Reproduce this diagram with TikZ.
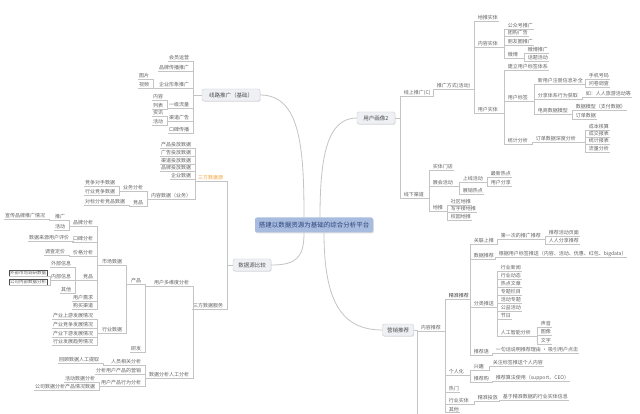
\documentclass[tikz,border=0pt]{standalone}
\usepackage{fontspec}
\setmainfont{Noto Sans CJK SC}
\usetikzlibrary{shadows}
\definecolor{txtgray}{HTML}{626262}
\definecolor{lnkgray}{HTML}{C4C4C4}
\definecolor{boxfill}{HTML}{EEF0F4}
\definecolor{boxline}{HTML}{C9CDD6}
\definecolor{cenfill}{HTML}{A8BCE0}
\definecolor{centext}{HTML}{2E4577}
\definecolor{hlorange}{HTML}{F2A33A}
\newcommand{\linkR}[2]{\draw[lnk] (#1) -| ([xshift=-3pt]#2.south west) -- (#2.south east);}
\newcommand{\linkL}[2]{\draw[lnk] (#1) -| ([xshift=3pt]#2.south east) -- (#2.south west);}

\begin{document}
\begin{tikzpicture}[x=1pt,y=-1pt,
 lf/.style={font=\fontsize{5}{5}\selectfont,text=txtgray,inner sep=0.7pt},
 lfR/.style={lf,anchor=west},
 lfL/.style={lf,anchor=east},
 boxed/.style={lfL,draw=black!70,line width=0.3pt,inner sep=0.8pt,font=\fontsize{4.5}{5}\selectfont},
 topic/.style={draw=boxline,fill=boxfill,rounded corners=2pt,font=\fontsize{5.5}{6}\selectfont,text=txtgray!80!black,inner xsep=3pt,minimum height=12pt,drop shadow={shadow xshift=0.6pt,shadow yshift=-0.8pt,opacity=0.2}},
 root/.style={fill=cenfill,rounded corners=2pt,font=\fontsize{6.5}{7}\selectfont,text=centext,minimum width=118pt,minimum height=15pt,drop shadow={shadow xshift=0.8pt,shadow yshift=-1pt,opacity=0.25}},
 lnk/.style={draw=lnkgray,line width=0.5pt},
 crv/.style={draw=lnkgray,line width=0.8pt}
]
\fill[white] (0,0) rectangle (640,414);
\useasboundingbox (0,0) rectangle (640,414);

\node[root] (cen) at (314,225) {搭建以数据资源为基础的综合分析平台};
\node[topic,minimum width=58pt] (tl) at (231,95) {线路推广（基础）};
\node[topic,minimum width=38pt] (tr) at (376,118) {用户画像2};
\node[topic,minimum width=38pt] (bl) at (252,265) {数据源比较};
\node[topic,minimum width=31pt] (br) at (398,330) {营销推荐};

\draw[crv] ([xshift=-10pt]cen.north) .. controls +(0,-70) and +(40,0) .. (tl.east);
\draw[crv] ([xshift=6pt]cen.north) .. controls +(0,-60) and +(-30,0) .. (tr.west);
\draw[crv] ([xshift=-10pt]cen.south) .. controls +(0,25) and +(25,0) .. (bl.east);
\draw[crv] ([xshift=10pt]cen.south) .. controls +(0,70) and +(-40,0) .. (br.west);

% top left
\node[lfL] (t1) at (190,58) {会员运营};
\node[lfL] (t2) at (190,68) {品牌传播推广};
\node[lfL] (t3) at (190,85) {企业形象推广};
\node[lfL] (t31) at (150,76) {图片};
\node[lfL] (t32) at (150,85) {视频};
\node[lfL] (t4) at (190,105) {一级流量};
\node[lfL] (t41) at (164,97) {内容};
\node[lfL] (t42) at (164,106) {列表};
\node[lfL] (t5) at (190,118) {渠道广告};
\node[lfL] (t51) at (164,113) {资讯};
\node[lfL] (t52) at (164,122) {活动};
\node[lfL] (t6) at (190,130) {口碑传播};

% left
\node[lfL,text=hlorange] (s1) at (224,178) {三方数据源};
\node[lfL] (s11) at (192,145) {产品投放数据};
\node[lfL] (s12) at (192,153) {广告投放数据};
\node[lfL] (s13) at (192,161) {渠道投放数据};
\node[lfL] (s14) at (192,168) {品牌投放数据};
\node[lfL] (s15) at (192,176) {企业数据};
\node[lfL] (s16) at (192,196) {内容数据（业务）};
\node[lfL] (s161) at (144,188) {业务分析};
\node[lfL] (s162) at (144,203) {竞品};
\node[lfL] (s1611) at (116,183) {竞争对手数据};
\node[lfL] (s1612) at (116,192) {行业竞争数据};
\node[lfL] (s1621) at (126,202) {对标分析竞品数据};

\node[lfL] (s2) at (224,306) {三方数据服务};
\node[lfL] (s21) at (190,283) {用户多维度分析};
\node[lfL] (s211) at (142,281) {产品};
\node[lfL] (s212) at (142,349) {研发};
\node[lfL] (s2111) at (123,262) {市场数据};
\node[lfL] (s2112) at (123,330) {行业数据};
\node[lfL] (m1) at (94,223) {品牌分析};
\node[lfL] (m2) at (94,239) {口碑分析};
\node[lfL] (m3) at (94,253) {价格分析};
\node[lfL] (m4) at (94,277) {竞品};
\node[lfL] (m5) at (94,298) {用户需求};
\node[lfL] (m6) at (94,306) {购买渠道};
\node[lfL] (m11) at (66,217) {推广};
\node[lfL] (m12) at (66,227) {活动};
\node[lfL] (m111) at (46,216) {宣传品牌推广情况};
\node[lfL] (m21) at (70,238) {数据来源用户评价};
\node[lfL] (m31) at (66,252) {调查定价};
\node[lfL] (m41) at (72,264) {外部信息};
\node[lfL] (m42) at (72,277) {内部信息};
\node[lfL] (m43) at (72,290) {其他};
\node[boxed] (m421) at (47,273) {外部市场调研数据};
\node[boxed] (m422) at (47,282) {公司内部数据分析};
\node[lfL] (h1) at (94,316) {产业上游发展情况};
\node[lfL] (h2) at (94,325) {产业竞争发展情况};
\node[lfL] (h3) at (94,334) {产业下游发展情况};
\node[lfL] (h4) at (94,342) {行业发展趋势情况};
\node[lfL] (s22) at (190,375) {数据分析人工分析};
\node[lfL] (s221) at (142,362) {人员相关分析};
\node[lfL] (s222) at (142,371) {分析用户产品的营销};
\node[lfL] (s223) at (142,383) {用户产品行为分析};
\node[lfL] (s2211) at (100,360) {回顾数据人工提取};
\node[lfL] (s2231) at (96,379) {活动数据分析};
\node[lfL] (s2232) at (96,387) {公司数据分析产品情况数据};

% top right
\node[lfR] (r1) at (403,93) {线上推广(C)};
\node[lfR] (r11) at (436,86) {推广方式(活动)};
\node[lfR] (r111) at (477,18) {地推实体};
\node[lfR] (r112) at (477,44) {内容实体};
\node[lfR] (r113) at (477,110) {用户实体};
\node[lfR] (r1121) at (507,26) {公众号推广};
\node[lfR] (r1122) at (507,33) {团购广告};
\node[lfR] (r1123) at (507,42) {朋友圈推广};
\node[lfR] (r1124) at (507,55) {微博};
\node[lfR] (r11241) at (527,50) {微博推广};
\node[lfR] (r11242) at (527,58) {话题活动};
\node[lfR] (r1131) at (507,67) {建立用户标签体系};
\node[lfR] (r1132) at (507,98) {用户标签};
\node[lfR] (r1133) at (507,141) {统计分析};
\node[lfR] (r11321) at (537,81) {新用户注册信息补全};
\node[lfR] (r11322) at (537,96) {分享体系行为获取};
\node[lfR] (r11323) at (537,111) {电商数据模型};
\node[lfR] (a1) at (588,76) {手机号码};
\node[lfR] (a2) at (588,84) {问卷调查};
\node[lfR] (a3) at (585,94) {如：人人旅游活动等};
\node[lfR] (a4) at (575,107) {数据模型（支付数据）};
\node[lfR] (a5) at (575,116) {订单数据};
\node[lfR] (r11331) at (535,139) {订单数据深度分析};
\node[lfR] (a6) at (588,127) {成本核算};
\node[lfR] (a7) at (588,134) {成交报表};
\node[lfR] (a8) at (588,141) {统计报表};
\node[lfR] (a9) at (588,149) {流量分析};

\node[lfR] (r2) at (403,195) {线下渠道};
\node[lfR] (r21) at (432,167) {实体门店};
\node[lfR] (r22) at (432,183) {展会活动};
\node[lfR] (r23) at (432,208) {地推};
\node[lfR] (r221) at (462,179) {上线活动};
\node[lfR] (r222) at (462,191) {展销热点};
\node[lfR] (r2211) at (490,174) {最新热点};
\node[lfR] (r2212) at (490,183) {用户分享};
\node[lfR] (r231) at (450,202) {社区地推};
\node[lfR] (r232) at (450,209) {写字楼地推};
\node[lfR] (r233) at (450,217) {校园地推};

% bottom right
\coordinate (bend) at (417,418);
\node[lfR] (b1) at (420,328) {内容推荐};
\node[lfR,text=black!75] (b11) at (448,296) {精准推荐};
\node[lfR] (b12) at (448,372) {个人化};
\node[lfR] (b13) at (448,389) {热门};
\node[lfR] (b14) at (448,401) {行业实体};
\node[lfR] (b15) at (448,409.5) {其他};
\node[lfR] (b111) at (473,241) {关联上推};
\node[lfR] (b112) at (473,256) {数据推荐};
\node[lfR] (b113) at (473,304) {分类推送};
\node[lfR] (b114) at (473,352) {推荐语};
\node[lfR] (b1111) at (500,236) {第一次的推广推荐};
\node[lfR] (b11111) at (548,233) {推荐活动页面};
\node[lfR] (b11112) at (548,241) {人人分享推荐};
\node[lfR] (b1121) at (498,254) {根据用户标签推送（内容、活动、优惠、红包、bigdata）};
\node[lfR] (c1) at (500,268) {行业新闻};
\node[lfR] (c2) at (500,276) {行业动态};
\node[lfR] (c3) at (500,284) {热点文章};
\node[lfR] (c4) at (500,292) {专题栏目};
\node[lfR] (c5) at (500,300) {活动专题};
\node[lfR] (c6) at (500,308) {公益活动};
\node[lfR] (c7) at (500,316) {节日};
\node[lfR] (b1138) at (500,333) {人工智能分析};
\node[lfR] (c81) at (540,324) {声音};
\node[lfR] (c82) at (540,332) {图像};
\node[lfR] (c83) at (540,341) {文字};
\node[lfR] (b1141) at (495,350) {一句话说明推荐理由 · 吸引用户点击};
\node[lfR] (b121) at (473,367) {兴趣};
\node[lfR] (b122) at (473,379) {推荐购};
\node[lfR] (b1211) at (492,363) {关注标签推送个人内容};
\node[lfR] (b1221) at (495,378) {推荐算法使用（support、CEO）};
\node[lfR] (b141) at (477,398) {精准投放};
\node[lfR] (b1411) at (502,397) {基于精准数据的行业实体信息};

\linkL{tl.west}{t1}
\linkL{tl.west}{t2}
\linkL{tl.west}{t3}
\linkL{tl.west}{t4}
\linkL{tl.west}{t5}
\linkL{tl.west}{t6}
\linkL{t3.south west}{t31}
\linkL{t3.south west}{t32}
\linkL{t4.south west}{t41}
\linkL{t4.south west}{t42}
\linkL{t5.south west}{t51}
\linkL{t5.south west}{t52}

\linkL{bl.west}{s1}
\linkL{bl.west}{s2}
\linkL{s1.south west}{s11}
\linkL{s1.south west}{s12}
\linkL{s1.south west}{s13}
\linkL{s1.south west}{s14}
\linkL{s1.south west}{s15}
\linkL{s1.south west}{s16}
\linkL{s16.south west}{s161}
\linkL{s16.south west}{s162}
\linkL{s161.south west}{s1611}
\linkL{s161.south west}{s1612}
\linkL{s162.south west}{s1621}
\linkL{s2.south west}{s21}
\linkL{s2.south west}{s22}
\linkL{s21.south west}{s211}
\linkL{s21.south west}{s212}
\linkL{s211.south west}{s2111}
\linkL{s211.south west}{s2112}
\linkL{s2111.south west}{m1}
\linkL{s2111.south west}{m2}
\linkL{s2111.south west}{m3}
\linkL{s2111.south west}{m4}
\linkL{s2111.south west}{m5}
\linkL{s2111.south west}{m6}
\linkL{m1.south west}{m11}
\linkL{m1.south west}{m12}
\linkL{m11.south west}{m111}
\linkL{m2.south west}{m21}
\linkL{m3.south west}{m31}
\linkL{m4.south west}{m41}
\linkL{m4.south west}{m42}
\linkL{m4.south west}{m43}
\linkL{m42.south west}{m421}
\linkL{m42.south west}{m422}
\linkL{s2112.south west}{h1}
\linkL{s2112.south west}{h2}
\linkL{s2112.south west}{h3}
\linkL{s2112.south west}{h4}
\linkL{s22.south west}{s221}
\linkL{s22.south west}{s222}
\linkL{s22.south west}{s223}
\linkL{s221.south west}{s2211}
\linkL{s223.south west}{s2231}
\linkL{s223.south west}{s2232}

\linkR{tr.east}{r1}
\linkR{tr.east}{r2}
\linkR{r1.south east}{r11}
\linkR{r11.south east}{r111}
\linkR{r11.south east}{r112}
\linkR{r11.south east}{r113}
\linkR{r112.south east}{r1121}
\linkR{r112.south east}{r1122}
\linkR{r112.south east}{r1123}
\linkR{r112.south east}{r1124}
\linkR{r1124.south east}{r11241}
\linkR{r1124.south east}{r11242}
\linkR{r113.south east}{r1131}
\linkR{r113.south east}{r1132}
\linkR{r113.south east}{r1133}
\linkR{r1132.south east}{r11321}
\linkR{r1132.south east}{r11322}
\linkR{r1132.south east}{r11323}
\linkR{r11321.south east}{a1}
\linkR{r11321.south east}{a2}
\linkR{r11322.south east}{a3}
\linkR{r11323.south east}{a4}
\linkR{r11323.south east}{a5}
\linkR{r1133.south east}{r11331}
\linkR{r11331.south east}{a6}
\linkR{r11331.south east}{a7}
\linkR{r11331.south east}{a8}
\linkR{r11331.south east}{a9}
\linkR{r2.south east}{r21}
\linkR{r2.south east}{r22}
\linkR{r2.south east}{r23}
\linkR{r22.south east}{r221}
\linkR{r22.south east}{r222}
\linkR{r221.south east}{r2211}
\linkR{r221.south east}{r2212}
\linkR{r23.south east}{r231}
\linkR{r23.south east}{r232}
\linkR{r23.south east}{r233}

\draw[lnk] (br.east) -| (bend);
\linkR{br.east}{b1}
\linkR{b1.south east}{b11}
\linkR{b1.south east}{b12}
\linkR{b1.south east}{b13}
\linkR{b1.south east}{b14}
\linkR{b1.south east}{b15}
\linkR{b11.south east}{b111}
\linkR{b11.south east}{b112}
\linkR{b11.south east}{b113}
\linkR{b11.south east}{b114}
\linkR{b111.south east}{b1111}
\linkR{b1111.south east}{b11111}
\linkR{b1111.south east}{b11112}
\linkR{b112.south east}{b1121}
\linkR{b113.south east}{c1}
\linkR{b113.south east}{c2}
\linkR{b113.south east}{c3}
\linkR{b113.south east}{c4}
\linkR{b113.south east}{c5}
\linkR{b113.south east}{c6}
\linkR{b113.south east}{c7}
\linkR{b113.south east}{b1138}
\linkR{b1138.south east}{c81}
\linkR{b1138.south east}{c82}
\linkR{b1138.south east}{c83}
\linkR{b114.south east}{b1141}
\linkR{b12.south east}{b121}
\linkR{b12.south east}{b122}
\linkR{b121.south east}{b1211}
\linkR{b122.south east}{b1221}
\linkR{b14.south east}{b141}
\linkR{b141.south east}{b1411}
\end{tikzpicture}
\end{document}
